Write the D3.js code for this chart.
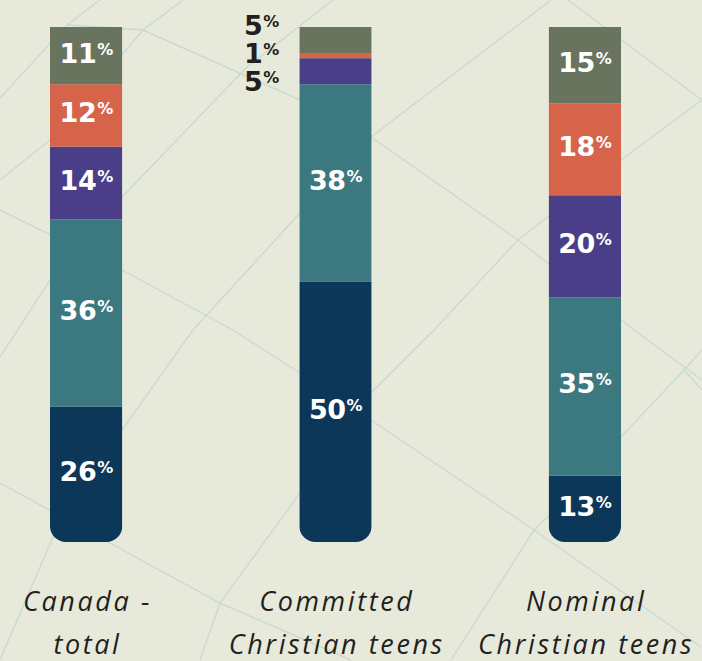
<!DOCTYPE html>
<html>
<head>
<meta charset="utf-8">
<script src="https://cdn.jsdelivr.net/npm/d3@7"></script>
<style>
  body { margin: 0; background: #e7eada; }
  svg { display: block; }
</style>
</head>
<body>
<div id="chart"></div>
<script>
// size of svg
var svgWidth = 702;
var svgHeight = 661;

// bar area
var margin = { top: 27, bottom: 119, left: 50, right: 81 };
var barTop = margin.top;
var barBottom = svgHeight - margin.bottom;

// categories (two lines each)
var categories = ["Canada - total", "Committed Christian teens", "Nominal Christian teens"];
var categoryLines = [["Canada -", "total"], ["Committed", "Christian teens"], ["Nominal", "Christian teens"]];

// segment series, bottom to top
var seriesKeys = ["navy", "teal", "purple", "orange", "gray"];
var navyValues = [26, 50, 13];
var tealValues = [36, 38, 35];
var purpleValues = [14, 5, 20];
var orangeValues = [12, 1, 18];
var grayValues = [11, 5, 15];

var colors = {
  navy: "#0c3758",
  teal: "#3c7880",
  purple: "#4a3e88",
  orange: "#d5644b",
  gray: "#69745f"
};

// faint map lines behind the chart (decoration)
var mapLines = [
  [[0, 98], [67, 25], [100, 0]],
  [[67, 25], [143, 30], [300, 100], [371, 137]],
  [[143, 30], [183, 0]],
  [[0, 180], [50, 140], [143, 30]],
  [[0, 210], [122, 270], [233, 330], [300, 373], [371, 420], [534, 530], [701, 647]],
  [[122, 197], [247, 67], [333, 0]],
  [[0, 660], [53, 537], [122, 430], [193, 330], [300, 213]],
  [[0, 357], [50, 280], [90, 220]],
  [[0, 483], [110, 543], [220, 603], [351, 660]],
  [[200, 660], [220, 603], [300, 493], [371, 393], [434, 330], [518, 240], [621, 160], [702, 100]],
  [[371, 137], [551, 0]],
  [[371, 137], [518, 240], [634, 330], [702, 380]],
  [[568, 0], [702, 100]],
  [[621, 437], [684, 370], [702, 350]],
  [[684, 370], [702, 390]],
  [[451, 660], [534, 530], [560, 505]]
];

var table = categories.map(function(c, i) {
  return {
    category: c,
    navy: navyValues[i],
    teal: tealValues[i],
    purple: purpleValues[i],
    orange: orangeValues[i],
    gray: grayValues[i]
  };
});

var svg = d3.select("#chart")
  .append("svg")
  .attr("width", svgWidth)
  .attr("height", svgHeight);

svg.append("rect")
  .attr("width", svgWidth)
  .attr("height", svgHeight)
  .attr("fill", "#e7eada");

var lineGen = d3.line();
svg.append("g")
  .selectAll("path")
  .data(mapLines)
  .enter()
  .append("path")
  .attr("d", lineGen)
  .attr("fill", "none")
  .attr("stroke", "#c9dad2")
  .attr("stroke-width", 1.4);

// scales
var xScale = d3.scaleBand()
  .domain(categories)
  .range([margin.left, svgWidth - margin.right])
  .paddingInner(0.71)
  .paddingOuter(0);

var yScale = d3.scaleLinear()
  .domain([0, 1])
  .range([barBottom, barTop]);

var stacked = d3.stack()
  .keys(seriesKeys)
  .offset(d3.stackOffsetExpand)(table);

// rounded bottom corners via clip paths
var defs = svg.append("defs");
categories.forEach(function(c, i) {
  defs.append("clipPath")
    .attr("id", "clip" + i)
    .append("rect")
    .attr("x", xScale(c))
    .attr("y", barTop - 30)
    .attr("width", xScale.bandwidth())
    .attr("height", barBottom - barTop + 30)
    .attr("rx", 16);
});

var barGroups = categories.map(function(c, i) {
  return svg.append("g").attr("clip-path", "url(#clip" + i + ")");
});

stacked.forEach(function(layer) {
  layer.forEach(function(d, i) {
    barGroups[i].append("rect")
      .attr("x", xScale(d.data.category))
      .attr("y", yScale(d[1]))
      .attr("width", xScale.bandwidth())
      .attr("height", yScale(d[0]) - yScale(d[1]))
      .attr("fill", colors[layer.key]);
  });
});

// value labels
var labelFont = "'DejaVu Sans', sans-serif";
var outside = [];
var labels = svg.append("g");

function addLabel(x, yCenter, value, fill) {
  var t = labels.append("text")
    .attr("x", x)
    .attr("y", yCenter + 10)
    .attr("text-anchor", "middle")
    .attr("font-family", labelFont)
    .attr("font-weight", "bold")
    .attr("font-size", 27)
    .attr("letter-spacing", -0.5)
    .attr("fill", fill);
  t.append("tspan").text(value);
  t.append("tspan")
    .attr("font-size", 16)
    .attr("font-weight", 600)
    .attr("dx", 1)
    .attr("dy", -8)
    .text("%");
}

stacked.forEach(function(layer) {
  layer.forEach(function(d, i) {
    var y0 = yScale(d[0]), y1 = yScale(d[1]);
    var value = d.data[layer.key];
    var cx = xScale(d.data.category) + xScale.bandwidth() / 2;
    if (y0 - y1 < 35) {
      outside.push({ x: xScale(d.data.category) - 38, y: (y0 + y1) / 2, value: value });
    } else {
      addLabel(cx, (y0 + y1) / 2 - 3, value, "#ffffff");
    }
  });
});

// spread the small outside labels so they don't collide
if (outside.length) {
  outside.sort(function(a, b) { return a.y - b.y; });
  var mid = d3.mean(outside, function(d) { return d.y; }) - 3;
  var gap = 28;
  outside.forEach(function(d, k) {
    var y = mid + (k - (outside.length - 1) / 2) * gap;
    addLabel(d.x, y, d.value, "#231f20");
  });
}

// category labels
categoryLines.forEach(function(lines, i) {
  var cx = xScale(categories[i]) + xScale.bandwidth() / 2;
  var t = svg.append("text")
    .attr("text-anchor", "middle")
    .attr("font-family", "'Open Sans', sans-serif")
    .attr("font-style", "italic")
    .attr("font-weight", 400)
    .attr("font-size", 27)
    .attr("letter-spacing", 2.6)
    .attr("fill", "#231f20");
  lines.forEach(function(line, k) {
    t.append("tspan")
      .attr("x", cx + 1.3)
      .attr("y", 611 + k * 43)
      .text(line);
  });
});
</script>
</body>
</html>
